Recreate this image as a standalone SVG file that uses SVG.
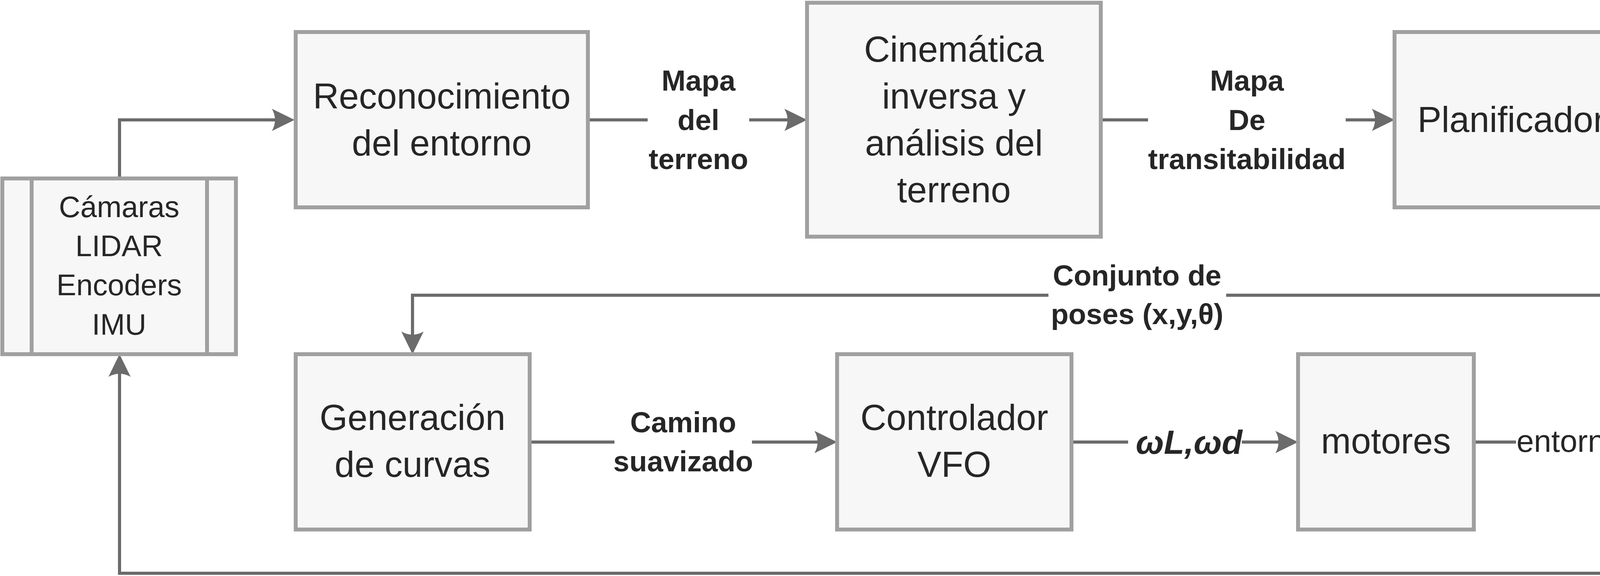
<svg xmlns="http://www.w3.org/2000/svg" width="4356" height="1475" viewBox="0 0 4356 1475">
<style>
.box{fill:#f7f7f7;stroke:#a0a0a0;stroke-width:10}
.div{stroke:#a0a0a0;stroke-width:10;fill:none}
.t{font-family:"Liberation Sans",Arial,sans-serif;font-size:92px;fill:#262626;text-anchor:middle}
.s{font-family:"Liberation Sans",Arial,sans-serif;font-size:76px;fill:#262626;text-anchor:middle}
.lb{font-family:"Liberation Sans",Arial,sans-serif;font-size:74px;font-weight:bold;fill:#262626;text-anchor:middle}
.lr{font-family:"Liberation Sans",Arial,sans-serif;font-size:80px;fill:#262626;text-anchor:middle}
.li{font-family:"Liberation Sans",Arial,sans-serif;font-size:86px;font-style:italic;font-weight:bold;fill:#262626;text-anchor:middle}
.c{fill:none;stroke:#6b6b6b;stroke-width:8;marker-end:url(#arr)}
.bg{fill:#ffffff}
</style>
<defs>
<marker id="arr" markerUnits="userSpaceOnUse" viewBox="0 -30 60 60" markerWidth="60" markerHeight="60" refX="8" refY="0" orient="auto">
<path d="M58 0 L0 -28.5 Q16 0 0 28.5 Z" fill="#6b6b6b"/>
</marker>
</defs>
<rect width="4356" height="1475" fill="#ffffff"/>
<g id="connectors">
<path class="c" d="M306 457 V307 H704"/>
<path class="c" d="M1505 307 H2016"/>
<path class="c" d="M2818 307 H3520"/>
<path class="c" d="M4168 307 H4318 V756 H1056 V857"/>
<path class="c" d="M1356 1132 H2093"/>
<path class="c" d="M2743 1132 H3273"/>
<path class="c" d="M3773 1132 H4304"/>
<path class="c" d="M4243 1132 V1468 H306 V957"/>
</g>
<g id="labels">
<g id="lbl-mapa-terreno">
<rect class="bg" x="1658" y="290" width="260" height="36"/>
<text class="lb" x="1788" y="232">Mapa</text>
<text class="lb" x="1788" y="333">del</text>
<text class="lb" x="1788" y="433">terreno</text>
</g>
<g id="lbl-mapa-transit">
<rect class="bg" x="2939" y="290" width="506" height="36"/>
<text class="lb" x="3192" y="232">Mapa</text>
<text class="lb" x="3192" y="333">De</text>
<text class="lb" x="3192" y="433">transitabilidad</text>
</g>
<g id="lbl-conjunto">
<rect class="bg" x="2684" y="738" width="455" height="36"/>
<text class="lb" x="2911" y="731">Conjunto de</text>
<text class="lb" x="2911" y="830">poses (x,y,θ)</text>
</g>
<g id="lbl-camino">
<rect class="bg" x="1573" y="1114" width="352" height="36"/>
<text class="lb" x="1749" y="1107">Camino</text>
<text class="lb" x="1749" y="1207">suavizado</text>
</g>
<g id="lbl-omega">
<rect class="bg" x="2888" y="1114" width="291" height="36"/>
<text class="li" x="3044" y="1162">ωL,ωd</text>
</g>
<g id="lbl-entorno">
<rect class="bg" x="3881" y="1114" width="274" height="36"/>
<text class="lr" x="4018" y="1157">entorno</text>
</g>
</g>
<g id="sensores">
<rect class="box" x="6" y="457" width="598" height="450"/>
<line class="div" x1="81" y1="457" x2="81" y2="907"/>
<line class="div" x1="530" y1="457" x2="530" y2="907"/>
<text class="s" x="305" y="556">Cámaras</text>
<text class="s" x="305" y="656">LIDAR</text>
<text class="s" x="305" y="756">Encoders</text>
<text class="s" x="305" y="857">IMU</text>
</g>
<g id="reconocimiento">
<rect class="box" x="757" y="82" width="748" height="449"/>
<text class="t" x="1131" y="278">Reconocimiento</text>
<text class="t" x="1131" y="398">del entorno</text>
</g>
<g id="cinematica">
<rect class="box" x="2066" y="7" width="752" height="599"/>
<text class="t" x="2442" y="158">Cinemática</text>
<text class="t" x="2442" y="278">inversa y</text>
<text class="t" x="2442" y="398">análisis del</text>
<text class="t" x="2442" y="518">terreno</text>
</g>
<g id="planificador">
<rect class="box" x="3570" y="82" width="598" height="449"/>
<text class="t" x="3869" y="338">Planificador</text>
</g>
<g id="generacion">
<rect class="box" x="757" y="907" width="599" height="449"/>
<text class="t" x="1056" y="1101">Generación</text>
<text class="t" x="1056" y="1221">de curvas</text>
</g>
<g id="controlador">
<rect class="box" x="2143" y="907" width="600" height="449"/>
<text class="t" x="2443" y="1101">Controlador</text>
<text class="t" x="2443" y="1221">VFO</text>
</g>
<g id="motores">
<rect class="box" x="3323" y="907" width="450" height="449"/>
<text class="t" x="3548" y="1161">motores</text>
</g>
</svg>
